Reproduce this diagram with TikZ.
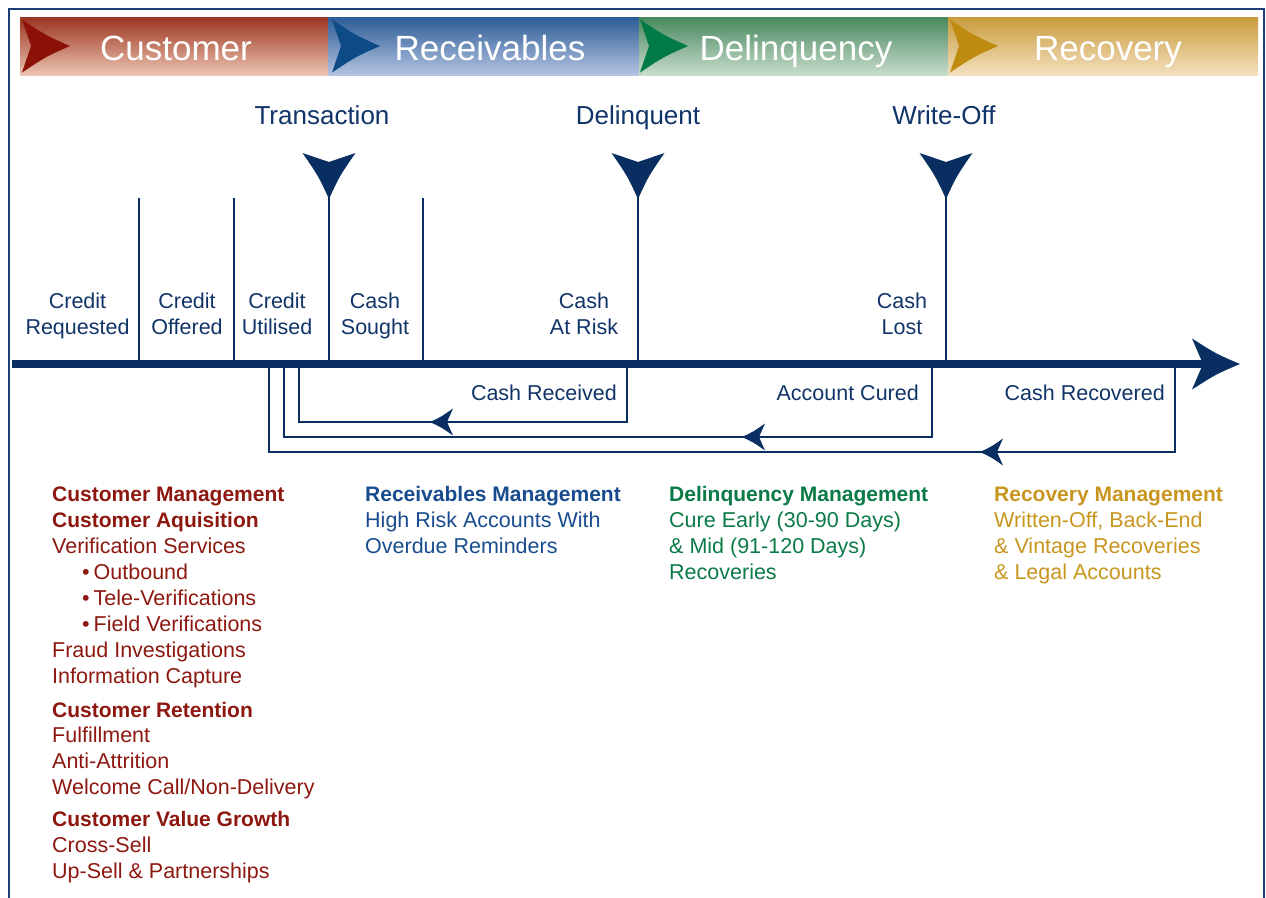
\documentclass[tikz,border=0pt]{standalone}
\usepackage{fontspec}
\setmainfont{Liberation Sans}
\definecolor{navy}{RGB}{8,46,98}
\definecolor{txtnavy}{RGB}{16,52,104}
\definecolor{framec}{RGB}{27,63,119}
\definecolor{custT}{RGB}{155,52,32}
\definecolor{custB}{RGB}{236,196,176}
\definecolor{custA}{RGB}{140,18,8}
\definecolor{recvT}{RGB}{44,92,150}
\definecolor{recvB}{RGB}{180,196,226}
\definecolor{recvA}{RGB}{14,74,134}
\definecolor{delqT}{RGB}{72,136,94}
\definecolor{delqB}{RGB}{200,220,204}
\definecolor{delqA}{RGB}{0,122,70}
\definecolor{recoT}{RGB}{200,155,60}
\definecolor{recoB}{RGB}{244,224,192}
\definecolor{recoA}{RGB}{190,138,16}
\definecolor{custX}{RGB}{140,24,16}
\definecolor{recvX}{RGB}{24,76,142}
\definecolor{delqX}{RGB}{10,122,70}
\definecolor{recoX}{RGB}{200,150,30}
\newcommand\tipshape[7]{\fill[#7,shift={(#1,#2)},rotate=#3] (0,0) .. controls (-0.5*#4,0.4*#5) .. (-#4,#5) -- (-#6,0) -- (-#4,-#5) .. controls (-0.5*#4,-0.4*#5) .. (0,0) -- cycle;}
\begin{document}
\begin{tikzpicture}[x=1pt,y=-1pt,
  hdr/.style={text=white,font=\fontsize{35}{42}\selectfont,anchor=base,inner sep=0pt},
  big/.style={text=txtnavy,font=\fontsize{26}{31}\selectfont,anchor=base,inner sep=0pt},
  lbl/.style={text=txtnavy,font=\fontsize{21.5}{26}\selectfont,anchor=base,inner sep=0pt},
  lst/.style={font=\fontsize{21.5}{26}\selectfont,anchor=base west,inner sep=0pt},
  lstb/.style={font=\bfseries\fontsize{21}{26}\selectfont,anchor=base west,inner sep=0pt},
  tick/.style={navy,line width=2pt},
  retline/.style={navy,line width=2pt}]
\useasboundingbox (0,0) rectangle (1266,897);
% frame
\draw[framec,line width=2.6pt] (9,905) -- (9,9) -- (1264,9) -- (1264,905);
% header
\shade[top color=custT,bottom color=custB] (20,17) rectangle (328,75);
\shade[top color=recvT,bottom color=recvB] (328,17) rectangle (639,75);
\shade[top color=delqT,bottom color=delqB] (639,17) rectangle (948,75);
\shade[top color=recoT,bottom color=recoB] (948,17) rectangle (1258,75);
\tipshape{70}{46}{0}{48}{26.5}{39}{custA}
\tipshape{380}{46}{0}{48}{26.5}{39}{recvA}
\tipshape{688}{46}{0}{48}{26.5}{39}{delqA}
\tipshape{998}{46}{0}{48}{26.5}{39}{recoA}
\node[hdr] (hC) at (176,60) {Customer};
\node[hdr] (hR) at (490,60) {Receivables};
\node[hdr] (hD) at (796,60) {Delinquency};
\node[hdr] (hY) at (1108,60) {Recovery};
% event labels
\node[big] (eT) at (322,124) {Transaction};
\node[big] (eD) at (638,124) {Delinquent};
\node[big] (eW) at (944,124) {Write-Off};
% ticks
\coordinate (k1a) at (139,198); \coordinate (k1b) at (139,362);
\coordinate (k2a) at (234,198); \coordinate (k2b) at (234,362);
\coordinate (k3a) at (329,190); \coordinate (k3b) at (329,362);
\coordinate (k4a) at (423,198); \coordinate (k4b) at (423,362);
\coordinate (k5a) at (638,190); \coordinate (k5b) at (638,362);
\coordinate (k6a) at (946,190); \coordinate (k6b) at (946,362);
\foreach \k in {1,...,6} {\draw[tick] (k\k a) -- (k\k b);}
\tipshape{329}{199}{-90}{46}{26.5}{37}{navy}
\tipshape{638}{199}{-90}{46}{26.5}{37}{navy}
\tipshape{946}{199}{-90}{46}{26.5}{37}{navy}
% axis
\coordinate (axL) at (12,364);
\coordinate (axR) at (1205,364);
\draw[navy,line width=8pt] (axL) -- (axR);
\tipshape{1240}{364}{0}{48}{25.5}{37}{navy}
% stage labels
\node[lbl] (s1a) at (77.5,308) {Credit};   \node[lbl] (s1b) at (77.5,334) {Requested};
\node[lbl] (s2a) at (187,308) {Credit};    \node[lbl] (s2b) at (187,334) {Offered};
\node[lbl] (s3a) at (277,308) {Credit};    \node[lbl] (s3b) at (277,334) {Utilised};
\node[lbl] (s4a) at (375,308) {Cash};      \node[lbl] (s4b) at (375,334) {Sought};
\node[lbl] (s5a) at (584,308) {Cash};      \node[lbl] (s5b) at (584,334) {At Risk};
\node[lbl] (s6a) at (902,308) {Cash};      \node[lbl] (s6b) at (902,334) {Lost};
% return loops
\coordinate (r1a) at (627,366); \coordinate (r1b) at (627,422);
\coordinate (r1c) at (299,422); \coordinate (r1d) at (299,366);
\coordinate (r2a) at (932,366); \coordinate (r2b) at (932,437);
\coordinate (r2c) at (284,437); \coordinate (r2d) at (284,366);
\coordinate (r3a) at (1175,366); \coordinate (r3b) at (1175,452);
\coordinate (r3c) at (269,452); \coordinate (r3d) at (269,366);
\draw[retline] (r1a) -- (r1b) -- (r1c) -- (r1d);
\draw[retline] (r2a) -- (r2b) -- (r2c) -- (r2d);
\draw[retline] (r3a) -- (r3b) -- (r3c) -- (r3d);
\tipshape{430}{422}{180}{23}{13.5}{17}{navy}
\tipshape{742}{437}{180}{23}{13.5}{17}{navy}
\tipshape{980}{452}{180}{23}{13.5}{17}{navy}
\node[lbl,anchor=base east] (cR) at (617,400) {Cash Received};
\node[lbl,anchor=base east] (cC) at (919,400) {Account Cured};
\node[lbl,anchor=base east] (cY) at (1165,400) {Cash Recovered};
% customer column
\node[lstb,text=custX] (c01) at (52,501) {Customer Management};
\node[lstb,text=custX] (c02) at (52,527) {Customer Aquisition};
\node[lst,text=custX] (c03) at (52,553) {Verification Services};
\node[lst,text=custX] (c04) at (82,579) {\textbullet\hspace{4pt}Outbound};
\node[lst,text=custX] (c05) at (82,605) {\textbullet\hspace{4pt}Tele-Verifications};
\node[lst,text=custX] (c06) at (82,631) {\textbullet\hspace{4pt}Field Verifications};
\node[lst,text=custX] (c07) at (52,657) {Fraud Investigations};
\node[lst,text=custX] (c08) at (52,683) {Information Capture};
\node[lstb,text=custX] (c09) at (52,717) {Customer Retention};
\node[lst,text=custX] (c10) at (52,742) {Fulfillment};
\node[lst,text=custX] (c11) at (52,768) {Anti-Attrition};
\node[lst,text=custX] (c12) at (52,794) {Welcome Call/Non-Delivery};
\node[lstb,text=custX] (c13) at (52,826) {Customer Value Growth};
\node[lst,text=custX] (c14) at (52,852) {Cross-Sell};
\node[lst,text=custX] (c15) at (52,878) {Up-Sell \& Partnerships};
% receivables column
\node[lstb,text=recvX] (v01) at (365,501) {Receivables Management};
\node[lst,text=recvX] (v02) at (365,527) {High Risk Accounts With};
\node[lst,text=recvX] (v03) at (365,553) {Overdue Reminders};
% delinquency column
\node[lstb,text=delqX] (d01) at (669,501) {Delinquency Management};
\node[lst,text=delqX] (d02) at (669,527) {Cure Early (30-90 Days)};
\node[lst,text=delqX] (d03) at (669,553) {\& Mid (91-120 Days)};
\node[lst,text=delqX] (d04) at (669,579) {Recoveries};
% recovery column
\node[lstb,text=recoX] (y01) at (994,501) {Recovery Management};
\node[lst,text=recoX] (y02) at (994,527) {Written-Off, Back-End};
\node[lst,text=recoX] (y03) at (994,553) {\& Vintage Recoveries};
\node[lst,text=recoX] (y04) at (994,579) {\& Legal Accounts};
\end{tikzpicture}
\end{document}
